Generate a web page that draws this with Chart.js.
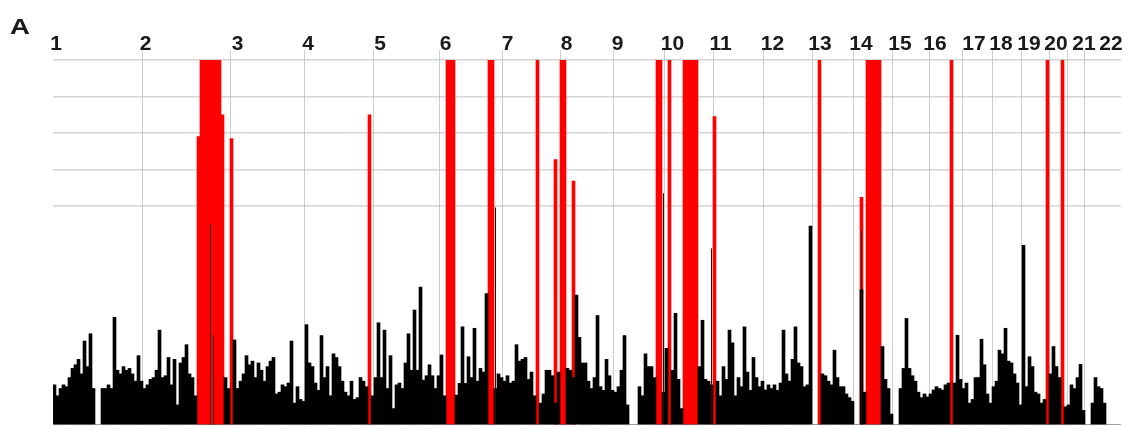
<!DOCTYPE html>
<html>
<head>
<meta charset="utf-8">
<script src="https://cdn.jsdelivr.net/npm/chart.js@4/dist/chart.umd.min.js"></script>
<style>
  html, body { margin: 0; padding: 0; background: #fff; }
  #wrap { width: 1137px; height: 426px; position: relative; }
</style>
</head>
<body>
<div id="wrap"><canvas id="scan"></canvas></div>
<script>
// genome scan – one bin per ~3 px of the original plot
const binCount = 356;
const chrNames = ['1','2','3','4','5','6','7','8','9','10','11','12','13','14','15','16','17','18','19','20','21','22'];
// chromosome boundaries (bin units) – vertical grid lines
const chrTicks = [0, 29.67, 59, 83.67, 106.67, 128.67, 149.67, 169, 186.67, 203.67, 220, 236.67, 253, 266.67, 279.67, 292.33, 303.33, 313, 322.67, 332, 338, 343.67];
// where each chromosome label sits (bin units)
const labelPos = [1.0, 30.83, 61.5, 85, 109, 130.83, 151.5, 171.17, 188.17, 206.5, 222.5, 239.83, 255.67, 269.33, 282.33, 294, 307, 316, 325.33, 334.33, 343.67, 352.67];

// background signal (black)
const signal = [
  1.1,0.8,1.0,1.1,1.05,1.3,1.55,1.65,1.8,1.4,
  2.3,1.6,2.5,1.0,0,0,1.0,1.0,1.1,1.0,
  2.95,1.5,1.4,1.6,1.5,1.55,1.4,1.2,1.9,1.2,
  1.0,1.1,1.25,1.3,1.5,2.6,1.3,1.35,1.85,1.1,
  1.8,0.55,1.7,1.85,2.2,1.4,1.3,0.8,0,0,
  0,0,0,0,0,0,0,1.3,1.0,0,
  2.33,1.0,1.2,1.4,1.9,1.65,1.75,1.3,1.7,1.5,
  1.2,1.6,1.75,1.85,0.85,0.9,1.1,1.05,1.15,2.3,
  0.6,1.05,0.7,0.65,2.75,1.7,1.6,1.15,0.95,2.45,
  1.3,1.6,0.8,1.95,1.85,1.6,1.2,0.9,0.8,1.2,
  0.7,0.75,1.3,1.2,1.05,0,0.8,1.3,2.8,1.3,
  2.6,1.0,1.9,0.45,1.1,1.15,1.0,1.7,2.5,1.5,
  3.15,1.5,3.78,1.23,1.35,1.65,1.35,1.0,1.35,1.92,
  0.8,0,0,0,0.82,1.14,2.69,1.14,1.87,1.3,
  2.65,1.2,1.55,1.45,3.6,0,0,1.0,1.4,1.3,
  1.2,1.35,1.15,1.2,2.2,1.75,1.8,1.85,1.25,1.45,
  0.8,0,0.6,0.85,1.5,1.5,1.35,0.6,1.45,0,
  0,1.55,1.5,1.3,3.56,2.4,1.7,1.7,1.2,1.0,
  1.3,3.0,1.05,0.95,1.8,1.35,0.95,0.9,1.05,1.5,
  2.45,0.55,0,0,0,1.05,0.8,1.95,1.6,1.6,
  1.3,0,0,0.9,2.1,0,1.5,3.06,1.25,0.45,
  0,0,0,0,0,1.6,2.87,1.25,1.2,1.1,
  0,1.2,0.8,1.6,1.25,2.6,2.25,0.8,1.3,1.05,
  2.69,1.45,0.95,1.85,1.3,1.05,1.2,0.96,1.1,1.0,
  1.1,0.95,1.15,2.6,1.4,1.2,1.8,2.69,1.7,1.6,
  1.05,1.1,5.45,0,0,0,1.4,1.35,1.2,1.1,
  2.05,1.3,1.05,1.05,0.85,0.75,0.65,0,0,3.7,
  0.9,0,0,0,0,0,2.15,1.25,1.0,0.3,
  0,0,1.0,1.55,2.92,1.55,1.35,1.2,0.9,0.75,
  0.85,0.77,0.85,0.96,1.05,1.0,0.96,1.1,1.15,0,
  1.15,2.46,1.25,1.0,1.15,0.6,0.7,1.3,1.3,2.35,
  1.65,0.85,0.6,1.05,1.2,2.05,1.95,2.65,1.75,1.7,
  1.4,1.15,0.55,4.92,1.05,1.87,1.6,0.9,0.85,0.6,
  0.7,0,1.4,2.15,1.6,1.3,0,0.5,0.55,1.1,
  1.0,1.3,1.66,0.4,0,0,0.6,1.3,1.05,1.0,
  0.6,0,0,0,0,0
];

// significant regions (red)
const hitBins   = [48,49,50,51,52,53,54,55,56,59,105,131,132,133,145,146,161,167,169,170,173,201,202,205,210,211,212,213,214,220,255,269,271,272,273,274,275,299,331,336];
const hitValues = [7.9,10,10,10,10,10,10,10,8.5,7.85,8.5,10,10,10,10,10,10,7.27,10,10,6.68,10,10,10,10,10,10,10,10,8.45,10,6.24,10,10,10,10,10,10,10,10];

// thin dark lines on the edges of red blocks
const lineBins   = [52, 53, 147, 203, 219, 269];
const lineValues = [5.5, 2.46, 5.96, 6.35, 4.84, 5.33];

const toPoints = (bins, vals) => bins.map((b, i) => ({ x: b + 0.5, y: vals[i] }));

const labelsPlugin = {
    id: 'chrLabels',
    afterDraw(chart) {
        const ctx = chart.ctx;
        const xs = chart.scales.x;
        ctx.save();
        ctx.fillStyle = '#1a1a1a';
        ctx.font = 'bold 21px "Liberation Sans", Arial, sans-serif';
        ctx.textAlign = 'center';
        ctx.textBaseline = 'alphabetic';
        chrNames.forEach((name, i) => {
            ctx.fillText(name, xs.getPixelForValue(labelPos[i]), 50);
        });
        // panel letter
        ctx.font = 'bold 22px "Liberation Sans", Arial, sans-serif';
        ctx.translate(10, 34);
        ctx.scale(1.25, 1);
        ctx.textAlign = 'left';
        ctx.fillText('A', 0, 0);
        ctx.restore();
    }
};

new Chart(document.getElementById('scan'), {
    type: 'bar',
    data: {
        datasets: [
            {
                label: 'edge',
                data: toPoints(lineBins, lineValues),
                backgroundColor: '#3a0505',
                barPercentage: 0.35,
                categoryPercentage: 1,
                grouped: false,
                order: 0
            },
            {
                label: 'signal',
                data: signal.map((v, i) => ({ x: i + 0.5, y: v })),
                backgroundColor: '#000000',
                barPercentage: 1,
                categoryPercentage: 1,
                grouped: false,
                order: 1
            },
            {
                label: 'hits',
                data: toPoints(hitBins, hitValues),
                backgroundColor: '#ff0000',
                barPercentage: 1,
                categoryPercentage: 1,
                grouped: false,
                order: 2
            }
        ]
    },
    options: {
        responsive: true,
        maintainAspectRatio: false,
        animation: false,
        layout: { padding: { left: 53, right: 16, top: 50, bottom: 1 } },
        plugins: {
            legend: { display: false },
            tooltip: { enabled: false }
        },
        scales: {
            x: {
                type: 'linear',
                position: 'top',
                min: 0,
                max: binCount,
                offset: false,
                afterBuildTicks: (axis) => { axis.ticks = chrTicks.map(v => ({ value: v })); },
                ticks: { display: false },
                border: { display: false },
                grid: {
                    offset: false,
                    tickLength: 10,
                    lineWidth: 1,
                    color: (c) => (c.tick && c.tick.value === 0) ? 'rgba(0,0,0,0)' : '#cdcdcd'
                }
            },
            y: {
                min: 0,
                max: 10,
                z: 1,
                ticks: { display: false, stepSize: 1 },
                border: { display: false },
                grid: {
                    drawTicks: false,
                    lineWidth: 1.5,
                    color: (c) => (c.tick && c.tick.value >= 6) ? 'rgba(185,185,185,0.6)' : 'rgba(0,0,0,0)'
                }
            }
        }
    },
    plugins: [labelsPlugin]
});
</script>
</body>
</html>
